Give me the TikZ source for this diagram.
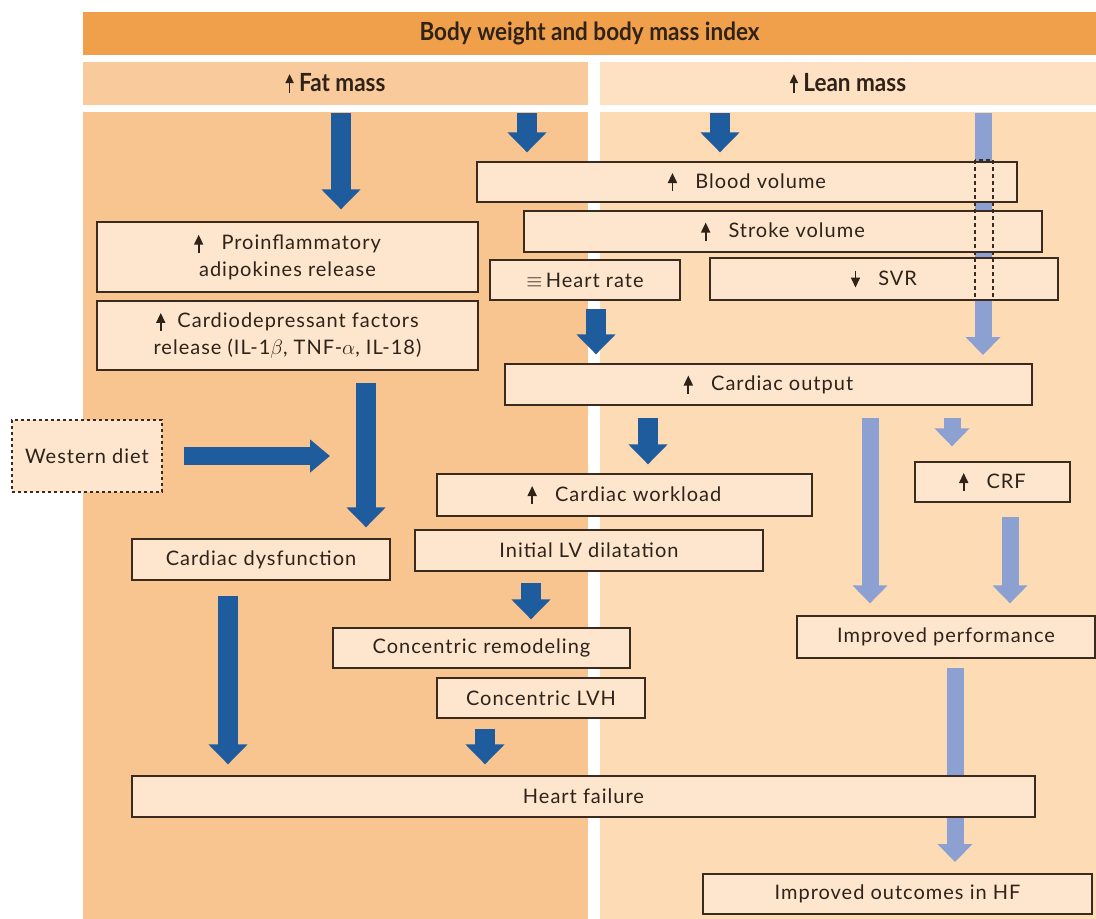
\documentclass[tikz,border=0pt]{standalone}
\usepackage{graphicx}
\usepackage{fontspec}
\setmainfont{Lato}
\newfontfamily\boxfont{Lato}[LetterSpace=5]
\usetikzlibrary{arrows.meta}
\definecolor{barorange}{HTML}{F0A04B}
\definecolor{lefthead}{HTML}{F9CA9C}
\definecolor{righthead}{HTML}{FDE1C2}
\definecolor{leftbg}{HTML}{F8C48F}
\definecolor{rightbg}{HTML}{FDDCB5}
\definecolor{boxfill}{HTML}{FDE6CD}
\definecolor{boxline}{HTML}{3B2A1E}
\definecolor{txt}{HTML}{2E2219}
\definecolor{darkarr}{HTML}{1F5C9E}
\definecolor{lightarr}{HTML}{8CA0D2}
\newcommand\upar{\tikz[baseline=0pt]\draw[txt,line width=1.8pt,-{Triangle[width=9pt,length=10pt]}](0pt,-3pt)--(0pt,15pt);}
\newcommand\dnar{\tikz[baseline=0pt]\draw[txt,line width=1.8pt,-{Triangle[width=9pt,length=10pt]}](0pt,15pt)--(0pt,-2pt);}
\newcommand\hupar{\tikz[baseline=0pt]\draw[txt,line width=1.8pt,-{Triangle[width=9pt,length=9pt]}](0pt,-2pt)--(0pt,17pt);}
\begin{document}
\begin{tikzpicture}[x=1pt,y=-1pt,
  box/.style={draw=boxline, line width=1.3pt, fill=boxfill, text=txt,
    font=\boxfont\fontsize{20}{27}\selectfont, inner sep=0pt, align=center},
  band/.style={inner sep=0pt, text=txt, font=\fontsize{25}{28}\selectfont\bfseries},
  dk/.style={draw=darkarr, line width=20pt, -{Triangle[width=38pt,length=20pt]}},
  lt/.style={draw=lightarr, line width=17pt, -{Triangle[width=34pt,length=18pt]}}]
\useasboundingbox (0,0) rectangle (1096,919);
\fill[white] (0,0) rectangle (1096,919);
% bands and backgrounds
\node[band, fill=barorange, minimum width=1013pt, minimum height=43pt] (title) at (589.5,33.5) {\scalebox{0.9}[1]{Body weight and body mass index}};
\node[band, fill=lefthead, minimum width=505pt, minimum height=43pt] (fat) at (335.5,83.5) {\scalebox{0.9}[1]{\hupar\ Fat mass}};
\node[band, fill=righthead, minimum width=496pt, minimum height=43pt] (lean) at (848,83.5) {\scalebox{0.9}[1]{\hupar\ Lean mass}};
\fill[leftbg] (83,112) rectangle (588,919);
\fill[rightbg] (600,112) rectangle (1096,919);
% arrow x positions
\coordinate (x1) at (341,113);
\coordinate (x2) at (527,113);
\coordinate (x3) at (720,113);
\coordinate (x4) at (983,113);
\coordinate (x5) at (596,0);
\coordinate (x6) at (366,0);
\coordinate (x7) at (330,456);
\coordinate (x8) at (648,0);
\coordinate (x9) at (870,0);
\coordinate (x10) at (952,0);
\coordinate (x11) at (1010,0);
\coordinate (x12) at (531,0);
\coordinate (x13) at (228,0);
\coordinate (x14) at (485,0);
\coordinate (x15) at (955,0);
% light arrows that pass behind boxes
\draw[lt, shorten >=9pt] (x4) -- (x4 |- 0,364);
\draw[lt, shorten <=10pt, shorten >=12pt] (x15 |- 0,658) -- (x15 |- 0,874);
% boxes
\node[box, minimum width=540pt, minimum height=40pt] (blood) at (747,182) {\upar\ \ \ Blood volume};
\node[box, minimum width=518pt, minimum height=41pt] (stroke) at (783,231.5) {\upar\ \ \ Stroke volume};
\node[box, minimum width=190pt, minimum height=40pt] (hr) at (585,280) {$\equiv$\,Heart rate};
\node[box, minimum width=348pt, minimum height=42pt] (svr) at (884,279) {\dnar\ \ \ SVR};
\node[box, minimum width=381pt, minimum height=70pt] (pro) at (287.5,257) {\upar\ \ \ Proinflammatory\\adipokines release};
\node[box, minimum width=381pt, minimum height=69pt] (cardio) at (287.5,335.5) {\upar\ \ Cardiodepressant factors\\release (IL-1$\beta$, TNF-$\alpha$, IL-18)};
\node[box, dashed, line width=1.1pt, minimum width=150pt, minimum height=72pt] (west) at (87,456) {Western diet};
\node[box, minimum width=527pt, minimum height=41pt] (co) at (768.5,384.5) {\upar\ \ \ Cardiac output};
\node[box, minimum width=375pt, minimum height=42pt] (work) at (624.5,495) {\upar\ \ \ Cardiac workload};
\node[box, minimum width=155pt, minimum height=40pt] (crf) at (992.5,482) {\upar\ \ \ CRF};
\node[box, minimum width=348pt, minimum height=41pt] (lvdil) at (589,550.5) {Initial LV dilatation};
\node[box, minimum width=258pt, minimum height=41pt] (dys) at (261,559.5) {Cardiac dysfunction};
\node[box, minimum width=297pt, minimum height=40pt] (conrem) at (481.5,648) {Concentric remodeling};
\node[box, minimum width=208pt, minimum height=40pt] (lvh) at (541,698) {Concentric LVH};
\node[box, minimum width=298pt, minimum height=42pt] (perf) at (946,637) {Improved performance};
\node[box, minimum width=903pt, minimum height=41pt] (hf) at (583.5,796.5) {Heart failure};
\node[box, minimum width=389pt, minimum height=40pt] (out) at (897.5,894) {Improved outcomes in HF};
% connectors
\draw[dk, shorten >=12pt] (x1) -- (x1 |- pro.north);
\draw[dk, shorten >=9pt] (x2) -- (x2 |- blood.north);
\draw[dk, shorten >=9pt] (x3) -- (x3 |- blood.north);
\draw[dk, shorten <=8pt, shorten >=9pt] (hr.south -| x5) -- (co.north -| x5);
\draw[dk, shorten <=12pt, shorten >=11pt] (cardio.south -| x6) -- (dys.north -| x6);
\draw[dk, line width=18pt, -{Triangle[width=32pt,length=20pt]}, shorten <=21pt] (west.east) -- (x7);
\draw[dk, shorten <=12pt, shorten >=9pt] (co.south -| x8) -- (work.north -| x8);
\draw[lt, shorten <=12pt, shorten >=12pt] (co.south -| x9) -- (perf.north -| x9);
\draw[lt, shorten <=12pt, shorten >=15pt] (co.south -| x10) -- (crf.north -| x10);
\draw[lt, shorten <=14pt, shorten >=12pt] (crf.south -| x11) -- (perf.north -| x11);
\draw[dk, shorten <=11pt, shorten >=8pt] (lvdil.south -| x12) -- (conrem.north -| x12);
\draw[dk, shorten <=15pt, shorten >=11pt] (dys.south -| x13) -- (hf.north -| x13);
\draw[dk, shorten <=10pt, shorten >=11pt] (lvh.south -| x14) -- (hf.north -| x14);
% dashed window over the light arrow
\coordinate (w1) at (975,160);
\coordinate (w2) at (993,300);
\draw[boxline, line width=1.1pt, dash pattern=on 4pt off 3pt] (w1) rectangle (w2);
\end{tikzpicture}
\end{document}
